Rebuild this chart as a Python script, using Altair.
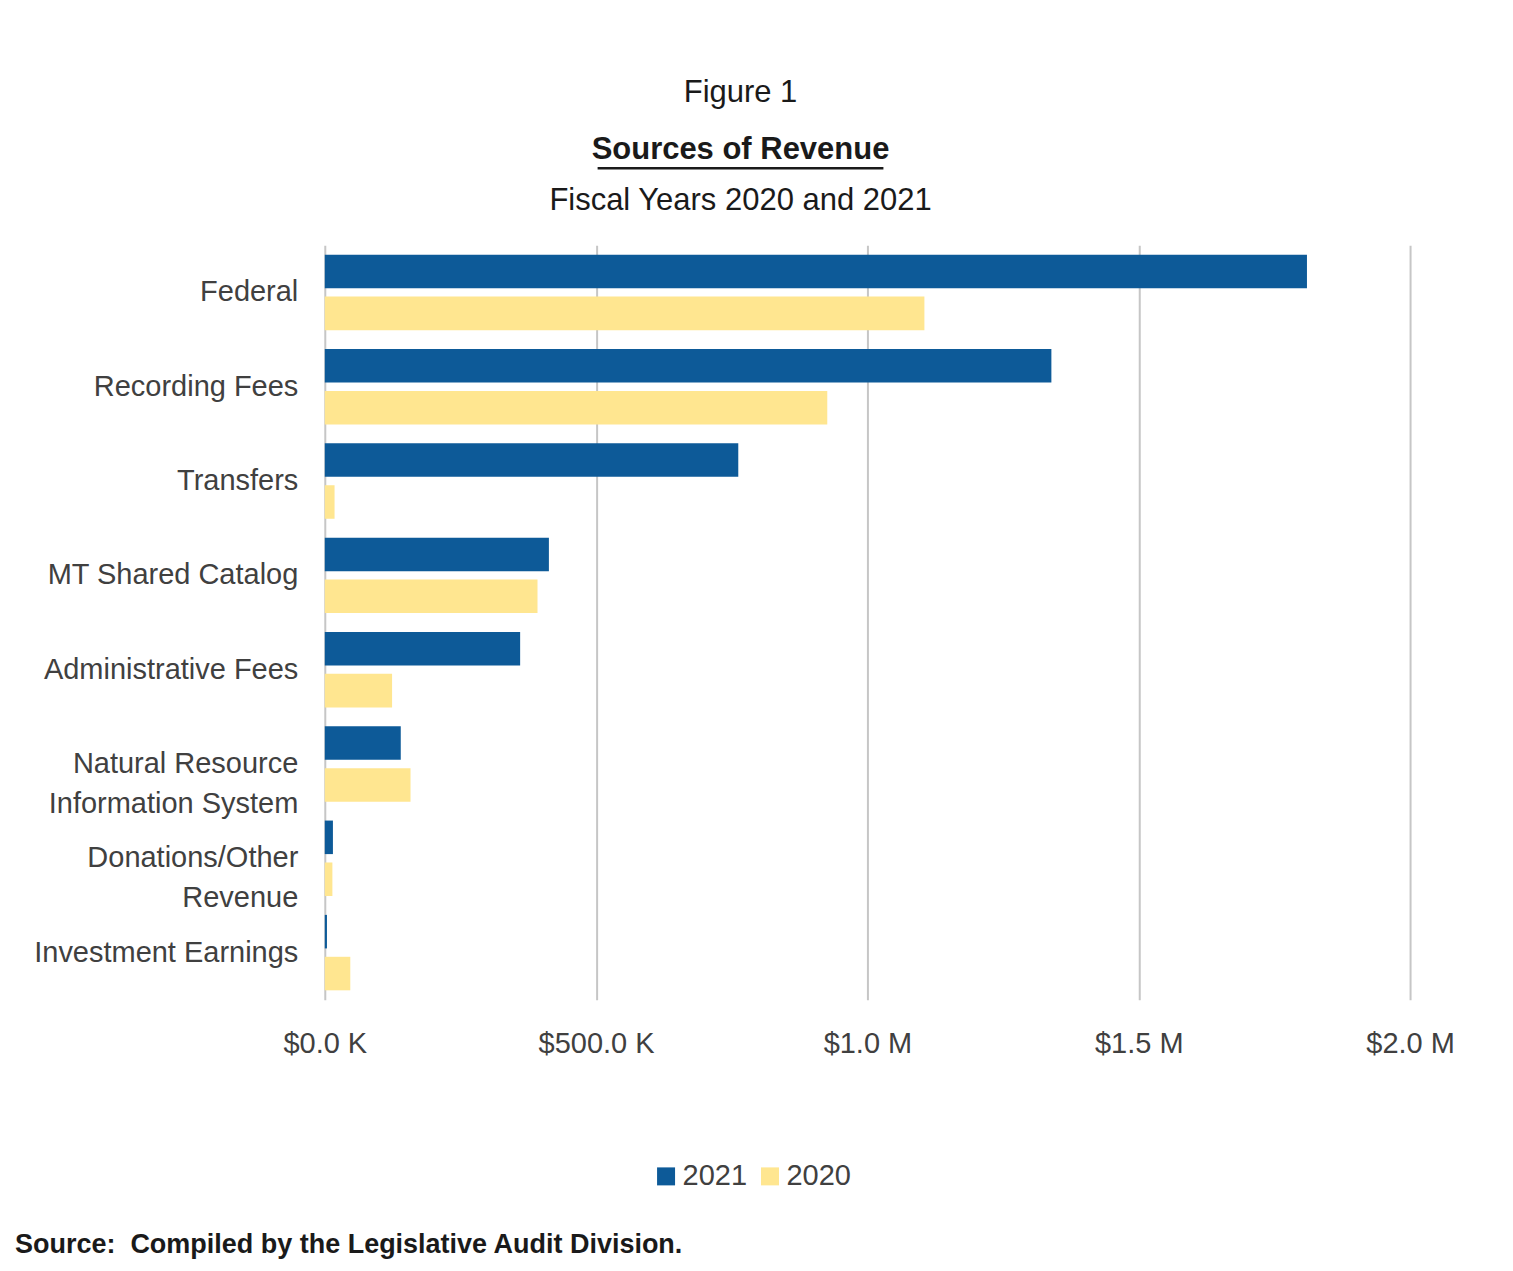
import altair as alt
import pandas as pd

categories = ["Federal", "Recording Fees", "Transfers", "MT Shared Catalog",
              "Administrative Fees", "Natural Resource|Information System",
              "Donations/Other|Revenue", "Investment Earnings"]
values_2021 = [1810000, 1339000, 762000, 413000, 360000, 140000, 15000, 4000]
values_2020 = [1105000, 926000, 18000, 392000, 124000, 158000, 14000, 47000]
years = ["2021", "2020"]
tick_values = [0, 500000, 1000000, 1500000, 2000000]

title_line1 = ["Figure 1"]
title_line2 = ["Sources of Revenue"]
title_line3 = ["Fiscal Years 2020 and 2021"]
source_note = ["Source:\u00a0 Compiled by the Legislative Audit Division."]

rows = []
for c, a, b in zip(categories, values_2021, values_2020):
    rows.append({"category": c, "year": "2021", "value": a})
    rows.append({"category": c, "year": "2020", "value": b})
df = pd.DataFrame(rows)

LABEL_FONT = "Liberation Sans, Arial, sans-serif"
TITLE_FONT = "Liberation Sans Narrow, Arial Narrow, Liberation Sans, sans-serif"

label_expr = ("datum.value < 1000000 ? '$' + format(datum.value/1000, '.1f') + ' K'"
              " : '$' + format(datum.value/1000000, '.1f') + ' M'")

bars = alt.Chart(df).mark_bar().encode(
    y=alt.Y("category:N", sort=categories,
            scale=alt.Scale(paddingInner=0.2, paddingOuter=0.1),
            axis=alt.Axis(title=None, domain=False, ticks=False, grid=False, labelPadding=27,
                          labelFontSize=29, labelFont=LABEL_FONT, labelColor="#404040",
                          labelLimit=0, labelLineHeight=40,
                          labelExpr="split(datum.value, '|')")),
    yOffset=alt.YOffset("year:N", sort=years, scale=alt.Scale(paddingInner=0.2)),
    x=alt.X("value:Q", scale=alt.Scale(domain=[0, 2000000], nice=False),
            axis=alt.Axis(title=None, values=tick_values, grid=True, gridColor="#c6c6c6",
                          gridWidth=2, domain=False, ticks=False, labelPadding=30,
                          labelFlush=False, labelOverlap=False,
                          labelFontSize=29, labelFont=LABEL_FONT, labelColor="#404040",
                          labelExpr=label_expr)),
    color=alt.Color("year:N", sort=years,
                    scale=alt.Scale(domain=years, range=["#0d5a98", "#ffe690"]),
                    legend=alt.Legend(title=None, orient="none", legendX=327, legendY=917,
                                      direction="horizontal", symbolType="square",
                                      symbolSize=324, symbolStrokeWidth=0,
                                      labelFontSize=29, labelFont=LABEL_FONT,
                                      labelColor="#404040", columnPadding=8,
                                      labelOffset=2)),
)

def text_layer(values, x, y, size, bold=False, align="center", font=TITLE_FONT, color="#1a1a1a"):
    return alt.Chart(pd.DataFrame({"t": values})).mark_text(
        font=font, fontSize=size, fontWeight="bold" if bold else "normal",
        align=align, baseline="middle", color=color,
    ).encode(text="t:N", x=alt.value(x), y=alt.value(y))

t1 = text_layer(title_line1, 416, -152, 31)
t2 = text_layer(title_line2, 416, -95, 31, bold=True)
t3 = text_layer(title_line3, 416, -44, 31)
src = text_layer(source_note, -310, 1000, 27, bold=True, align="left")
underline = alt.Chart(pd.DataFrame({"t": title_line2})).mark_rule(
    color="#1a1a1a", strokeWidth=2.5
).encode(x=alt.value(273), x2=alt.value(559), y=alt.value(-77))

chart = alt.layer(bars, t1, t2, t3, underline, src).properties(
    width=1086, height=755,
    autosize=alt.AutoSizeParams(type="none"),
    padding={"left": 317, "top": 237, "right": 95, "bottom": 263},
).configure(background="white", view=alt.ViewConfig(stroke=None))

chart.save("out.html", embed_options={"renderer": "svg", "actions": False})
